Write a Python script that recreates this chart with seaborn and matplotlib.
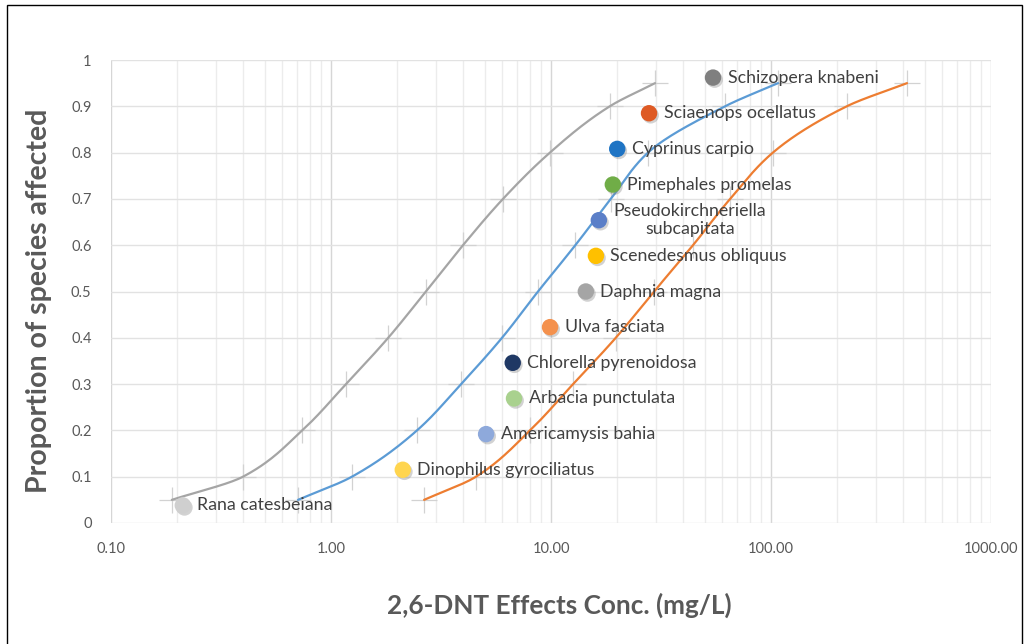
import numpy as np
import pandas as pd
import seaborn as sns
import matplotlib.pyplot as plt
import matplotlib.patheffects as pe
from matplotlib.patches import Rectangle
from matplotlib.ticker import FixedLocator, FixedFormatter, NullFormatter

# Species effect concentrations (mg/L) and their plotting positions
species = [
    "Rana catesbeiana", "Dinophilus gyrociliatus", "Americamysis bahia",
    "Arbacia punctulata", "Chlorella pyrenoidosa", "Ulva fasciata",
    "Daphnia magna", "Scenedesmus obliquus", "Pseudokirchneriella\nsubcapitata",
    "Pimephales promelas", "Cyprinus carpio", "Sciaenops ocellatus",
    "Schizopera knabeni",
]
species_conc = [0.212, 2.12, 5.07, 6.79, 6.7, 9.9, 14.4, 16.0, 16.5, 19.1, 20.0, 27.9, 54.5]
species_prop = [0.038, 0.115, 0.192, 0.269, 0.346, 0.423, 0.500, 0.577, 0.654,
                0.731, 0.808, 0.885, 0.962]
species_colors = ["#CFCFCF", "#FFD54F", "#8EA9DB", "#A9D18E", "#1F3864", "#F4914D",
                  "#A5A5A5", "#FFC000", "#5B7FC8", "#70AD47", "#1F74C4", "#DE5A24",
                  "#7F7F7F"]

# Fitted distribution curves
curve_prop = [0.05, 0.1, 0.2, 0.3, 0.4, 0.5, 0.6, 0.7, 0.8, 0.9, 0.95]
gray_conc = [0.189, 0.398, 0.74, 1.17, 1.82, 2.70, 3.98, 6.05, 9.89, 18.5, 29.7]
blue_conc = [0.708, 1.245, 2.46, 3.90, 5.99, 8.73, 12.9, 18.7, 27.6, 61.8, 107.6]
orange_conc = [2.65, 4.56, 8.03, 12.6, 19.7, 29.4, 44.2, 65.2, 102.0, 221.0, 415.0]
curve_colors = ["#A5A5A5", "#5B9BD5", "#ED7D31"]

y_ticks = [0, 0.1, 0.2, 0.3, 0.4, 0.5, 0.6, 0.7, 0.8, 0.9, 1]
y_labels = ["0", "0.1", "0.2", "0.3", "0.4", "0.5", "0.6", "0.7", "0.8", "0.9", "1"]
x_ticks = [0.1, 1, 10, 100, 1000]
x_labels = ["0.10", "1.00", "10.00", "100.00", "1000.00"]


def smooth_curve(conc, prop, n=30):
    """Monotone cubic (PCHIP) smoothing of log10(conc) as a function of prop."""
    y = np.asarray(prop, float)
    v = np.log10(np.asarray(conc, float))
    h = np.diff(y)
    d = np.diff(v) / h
    m = np.zeros_like(v)
    for k in range(1, len(v) - 1):
        if d[k - 1] * d[k] > 0:
            w1 = 2 * h[k] + h[k - 1]
            w2 = h[k] + 2 * h[k - 1]
            m[k] = (w1 + w2) / (w1 / d[k - 1] + w2 / d[k])
    m[0] = d[0]
    m[-1] = d[-1]
    ys, vs = [], []
    for k in range(len(h)):
        t = np.linspace(0, 1, n, endpoint=False)
        h00 = 2 * t ** 3 - 3 * t ** 2 + 1
        h10 = t ** 3 - 2 * t ** 2 + t
        h01 = -2 * t ** 3 + 3 * t ** 2
        h11 = t ** 3 - t ** 2
        ys.extend(y[k] + t * h[k])
        vs.extend(h00 * v[k] + h10 * h[k] * m[k] + h01 * v[k + 1] + h11 * h[k] * m[k + 1])
    ys.append(y[-1])
    vs.append(v[-1])
    return 10 ** np.array(vs), np.array(ys)


sns.set_theme(style="white")
plt.rcParams["font.family"] = ["Lato", "DejaVu Sans"]

fig = plt.figure(figsize=(10.26, 6.44), dpi=100)
ax = fig.add_axes([111 / 1026, 1 - 523 / 644, 880 / 1026, 463 / 644])

ax.set_xscale("log")
ax.set_xlim(0.1, 1000)
ax.set_ylim(0, 1)

# Grid: decades and tenths, plus minor log lines
minor = [m * 10.0 ** e for e in range(-1, 3) for m in range(2, 10)]
ax.xaxis.set_major_locator(FixedLocator(x_ticks))
ax.xaxis.set_major_formatter(FixedFormatter(x_labels))
ax.xaxis.set_minor_locator(FixedLocator(minor))
ax.xaxis.set_minor_formatter(NullFormatter())
ax.yaxis.set_major_locator(FixedLocator(y_ticks))
ax.yaxis.set_major_formatter(FixedFormatter(y_labels))
ax.grid(True, which="major", axis="x", color="#D6D6D6", lw=1.0, zorder=0)
ax.grid(True, which="minor", axis="x", color="#ECECEC", lw=1.0, zorder=0)
ax.grid(True, which="major", axis="y", color="#E2E2E2", lw=1.0, zorder=0)
ax.set_axisbelow(True)
for s in ax.spines.values():
    s.set_visible(False)
ax.tick_params(axis="both", which="both", length=0)
ax.tick_params(axis="y", pad=14, labelsize=10.5, labelcolor="#595959")
ax.tick_params(axis="x", pad=14, labelsize=10.5, labelcolor="#595959")

# Curves with cross markers at the fitted points
for conc, col in zip([gray_conc, blue_conc, orange_conc], curve_colors):
    sns.scatterplot(x=conc, y=curve_prop, marker="+", s=360, color="#D2D2D2",
                    linewidth=0.9, ax=ax, zorder=2, legend=False)
    sx, sy = smooth_curve(conc, curve_prop)
    sns.lineplot(x=sx, y=sy, sort=False, estimator=None, color=col, lw=1.6, ax=ax,
                 zorder=3, legend=False)

# Species points with a soft drop shadow
df = pd.DataFrame({"species": species, "conc": species_conc, "prop": species_prop})
sns.scatterplot(data=df, x="conc", y="prop", hue="species",
                palette=dict(zip(species, species_colors)), s=140,
                linewidth=0, ax=ax, zorder=4, legend=False)
ax.collections[-1].set_path_effects([
    pe.SimplePatchShadow(offset=(1.2, -1.5), shadow_rgbFace="#808080", alpha=0.35),
    pe.Normal()])

for name, x, y in zip(species, species_conc, species_prop):
    ax.annotate(name, (x, y), xytext=(10.5, 0), textcoords="offset points",
                ha="left", va="center", fontsize=12.8, color="#404040",
                multialignment="center", linespacing=1.2, zorder=5)

ax.set_xlabel("2,6-DNT Effects Conc. (mg/L)", fontsize=18.8, fontweight="bold",
              color="#595959")
ax.set_ylabel("Proportion of species affected", fontsize=20.5, fontweight="bold",
              color="#595959")
ax.xaxis.set_label_coords(0.510, -0.150)
ax.yaxis.set_label_coords(-0.067, 0.479)

# Outer chart border
fig.patches.append(Rectangle((7 / 1026, -0.05), 1015 / 1026, 1.05 - 5 / 644,
                             transform=fig.transFigure, fill=False,
                             edgecolor="#000000", lw=1.0))

fig.savefig("out.png", dpi=100)
